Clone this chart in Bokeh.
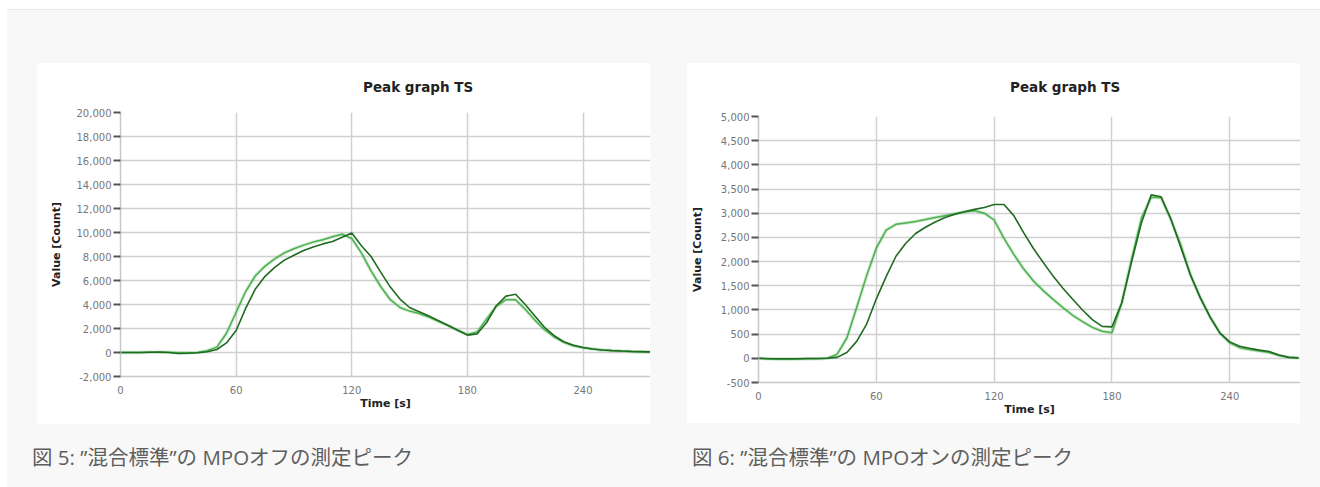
from bokeh.plotting import figure
from bokeh.layouts import column, row
from bokeh.models import Spacer, Div, FixedTicker, NumeralTickFormatter, Range1d
from bokeh.embed import file_html
from bokeh.resources import INLINE

# ---------------- data ----------------
x_ticks = [0, 60, 120, 180, 240]

# Figure 5: MPO off
off_t = [0, 5, 10, 15, 20, 25, 30, 35, 40, 45, 50, 55, 60, 65, 70, 75, 80, 85, 90, 95,
         100, 105, 110, 115, 120, 125, 130, 135, 140, 145, 150, 155, 160, 165, 170, 175,
         180, 185, 190, 195, 200, 205, 210, 215, 220, 225, 230, 235, 240, 245, 250, 255,
         260, 265, 270, 275]
off_dark = [0, 0, 0, 20, 30, 0, -80, -60, -20, 60, 250, 800, 1830, 3700, 5300, 6350, 7100,
            7700, 8100, 8500, 8800, 9050, 9250, 9600, 9950, 8900, 8000, 6700, 5450, 4450,
            3750, 3400, 3050, 2650, 2250, 1850, 1450, 1550, 2500, 3900, 4700, 4850, 4000,
            3050, 2100, 1400, 900, 600, 420, 290, 210, 160, 120, 90, 70, 50]
off_light = [0, 10, 0, 20, 30, 20, -20, -30, 0, 150, 450, 1600, 3350, 5100, 6400, 7200,
             7800, 8300, 8650, 8950, 9200, 9400, 9650, 9850, 9500, 8300, 6800, 5500, 4400,
             3750, 3450, 3250, 2950, 2600, 2250, 1850, 1500, 1700, 2800, 3850, 4400, 4400,
             3600, 2700, 1900, 1300, 850, 560, 400, 290, 210, 160, 120, 90, 70, 50]
off_y_ticks = list(range(-2000, 20001, 2000))

# Figure 6: MPO on
on_t = off_t
on_dark = [0, -10, -10, -10, -10, -5, -5, 0, 20, 120, 350, 700, 1230, 1690, 2110, 2380,
           2580, 2710, 2820, 2910, 2980, 3030, 3080, 3120, 3180, 3180, 2950, 2600, 2270,
           1980, 1700, 1450, 1220, 1000, 800, 660, 650, 1150, 2000, 2800, 3380, 3340, 2880,
           2300, 1720, 1250, 850, 520, 340, 250, 210, 170, 140, 70, 20, 5]
on_light = [0, -10, -20, -20, -15, -10, -10, 0, 80, 420, 1050, 1700, 2280, 2650, 2770,
            2800, 2830, 2870, 2910, 2950, 2990, 3030, 3050, 3000, 2860, 2480, 2150, 1850,
            1600, 1400, 1220, 1050, 890, 760, 640, 560, 530, 1150, 2050, 2900, 3330, 3320,
            2870, 2350, 1720, 1250, 850, 520, 320, 220, 180, 150, 120, 60, 20, 10]
on_y_ticks = list(range(-500, 5001, 500))

TITLE = "Peak graph TS"
DARK = "#1f6b22"
LIGHT = "#4cb04f"


def make_chart(t, dark, light, y_ticks, x_end, w, h, b_left, b_top, b_bottom,
               label_standoff):
    p = figure(width=w, height=h, output_backend="svg", toolbar_location=None,
               x_range=Range1d(0, x_end), y_range=Range1d(y_ticks[0], y_ticks[-1]),
               min_border_left=b_left, min_border_right=0, min_border_top=b_top,
               min_border_bottom=b_bottom, background_fill_color="#ffffff",
               border_fill_color="#ffffff", outline_line_color=None)

    p.xaxis.ticker = FixedTicker(ticks=x_ticks, minor_ticks=[])
    p.yaxis.ticker = FixedTicker(ticks=y_ticks, minor_ticks=[])
    p.yaxis.formatter = NumeralTickFormatter(format="0,0")
    for ax in (p.xaxis, p.yaxis):
        ax.axis_line_color = "#c8c8c8"
        ax.axis_line_width = 1.5
        ax.major_label_text_font = "DejaVu Sans"
        ax.major_label_text_font_size = "10px"
        ax.major_label_text_color = "#777777"
        ax.axis_label_text_font = "DejaVu Sans"
        ax.axis_label_text_font_size = "11px"
        ax.axis_label_text_font_style = "bold"
        ax.axis_label_text_color = "#222222"
    p.xaxis.axis_label = "Time [s]"
    p.yaxis.axis_label = "Value [Count]"
    p.xaxis.major_tick_out = 0
    p.xaxis.major_tick_in = 0
    p.xaxis.major_label_standoff = 9
    p.xaxis.axis_label_standoff = 0
    p.yaxis.major_tick_out = 7
    p.yaxis.major_tick_in = 0
    p.yaxis.major_tick_line_width = 2
    p.yaxis.major_tick_line_color = "#555555"
    p.yaxis.major_label_standoff = 2
    p.yaxis.axis_label_standoff = label_standoff

    p.xgrid.grid_line_color = "#d0d0d0"
    p.xgrid.grid_line_width = 1.5
    p.ygrid.grid_line_color = "#d0d0d0"
    p.ygrid.grid_line_width = 1.5

    p.line(t, light, line_color=LIGHT, line_width=3.5, line_alpha=0.25)
    p.line(t, light, line_color=LIGHT, line_width=1.5)
    p.line(t, dark, line_color=DARK, line_width=1.6)
    return p


def title_div(left_pad):
    style = (f"width:613px;height:37px;box-sizing:border-box;background:#ffffff;"
             f"padding:14px 0 0 {left_pad}px;font-family:'DejaVu Sans',sans-serif;"
             "font-size:13.5px;font-weight:bold;color:#222222;line-height:20px;"
             "white-space:nowrap;")
    return Div(text=f'<div style="{style}">{TITLE}</div>', width=613, height=37, margin=0,
               styles={"background-color": "#ffffff"})


p1 = make_chart(off_t, off_dark, off_light, off_y_ticks, 275, 613, 324, 83, 12, 48, 11)
p2 = make_chart(on_t, on_dark, on_light, on_y_ticks, 276, 613, 323, 71, 16, 41, 14)
c1 = column(title_div(326), p1, styles={"background-color": "#ffffff"})
c2 = column(title_div(323), p2, styles={"background-color": "#ffffff"})

cap_style = ("font-family:'Open Sans','Noto Sans CJK JP',sans-serif;font-size:20.5px;"
             "color:#5e5e5e;line-height:30px;white-space:nowrap;")
cap1 = Div(text=f'<div style="{cap_style}">図 5: ”混合標準”の MPOオフの測定ピーク</div>',
           width=660, height=30, margin=0)
cap2 = Div(text=f'<div style="{cap_style}">図 6: ”混合標準”の MPOオンの測定ピーク</div>',
           width=600, height=30, margin=0)

charts = row(Spacer(width=30, height=361), c1, Spacer(width=37, height=361), c2)
captions = row(Spacer(width=25, height=30), cap1, cap2)

body = column(Spacer(width=1313, height=53), charts, Spacer(width=1313, height=18), captions,
              width=1313, height=477, styles={"background-color": "#f8f8f8"})

root = column(
    Spacer(width=1320, height=9),
    row(Spacer(width=7, height=1), Spacer(width=1313, height=1, styles={"background-color": "#ebebeb"})),
    row(Spacer(width=7, height=477), body),
    styles={"background-color": "#ffffff"},
)

open("out.html", "w").write(file_html(root, INLINE))
